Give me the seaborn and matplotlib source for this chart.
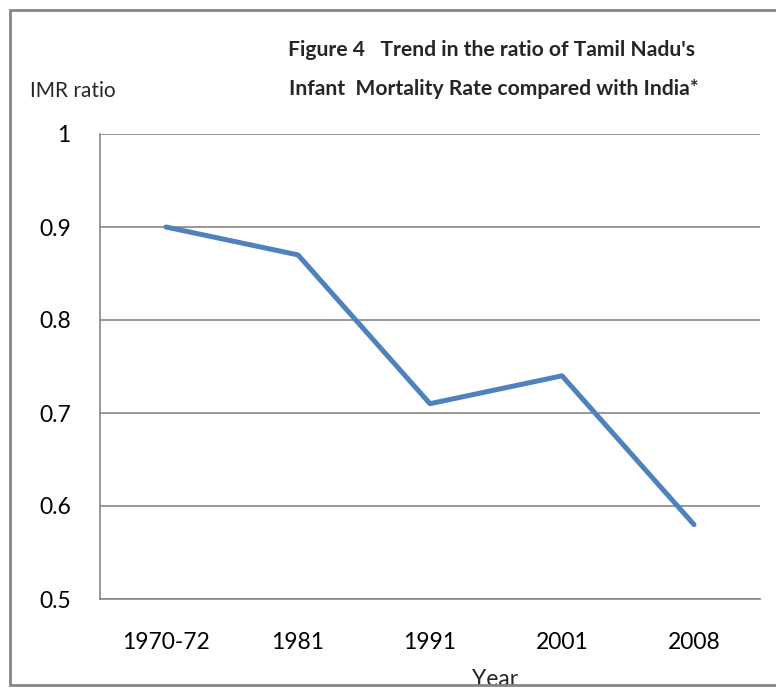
import numpy as np
import pandas as pd
import seaborn as sns
from matplotlib import pyplot as plt
from matplotlib.lines import Line2D
from matplotlib.patches import Rectangle

# chart values
years = ['1970-72', '1981', '1991', '2001', '2008']
imr_ratio = [0.90, 0.87, 0.71, 0.74, 0.58]
y_ticks = [0.5, 0.6, 0.7, 0.8, 0.9, 1.0]
y_labels = ['0.5', '0.6', '0.7', '0.8', '0.9', '1']

df = pd.DataFrame({'Year': years, 'IMR ratio': imr_ratio})
df['pos'] = np.arange(len(years))

sns.set_style('white')
plt.rcParams['font.family'] = ['Lato', 'DejaVu Sans']

W, H = 776, 688
fig = plt.figure(figsize=(W / 100, H / 100), dpi=100)
ax = fig.add_axes([100 / W, 1 - 599 / H, 660 / W, (599 - 134) / H])

sns.lineplot(data=df, x='pos', y='IMR ratio', ax=ax, color='#4F81BD',
             linewidth=3.6, solid_capstyle='round')

gray = '#868686'
ax.set_xlim(-0.5, len(years) - 0.5)
ax.set_ylim(0.5, 1.0)
ax.set_yticks(y_ticks)
ax.set_yticklabels(y_labels)
ax.set_xticks(df['pos'])
ax.set_xticklabels(years)
ax.set_xticks(np.arange(-0.5, len(years)), minor=True)
ax.tick_params(axis='x', which='major', length=0, labelsize=16.5, pad=24, colors='black')
ax.tick_params(axis='x', which='minor', length=8, width=1.2, color=gray, direction='out')
ax.tick_params(axis='y', length=8, width=1.2, color=gray, direction='out',
               labelsize=16.5, pad=13, labelcolor='black')
ax.grid(axis='y', color=gray, linewidth=1.2)
ax.grid(axis='x', visible=False)
ax.set_axisbelow(True)
for side in ['top', 'right']:
    ax.spines[side].set_visible(False)
for side in ['left', 'bottom']:
    ax.spines[side].set_color(gray)
    ax.spines[side].set_linewidth(1.2)
ax.set_xlabel('')
ax.set_ylabel('')

fig.text(492 / W, 1 - 50 / H, "Figure 4   Trend in the ratio of Tamil Nadu's",
         ha='center', va='center', fontsize=15.2, fontweight='bold')
fig.text(494 / W, 1 - 89 / H, "Infant  Mortality Rate compared with India*",
         ha='center', va='center', fontsize=15.2, fontweight='bold')
fig.text(30 / W, 1 - 91 / H, 'IMR ratio', ha='left', va='center', fontsize=15)
fig.text(495 / W, 1 - 680 / H, 'Year', ha='center', va='center', fontsize=16.5)

# hide the part of "Year" that falls below the frame, then draw the frame
fig.patches.append(Rectangle((0, 0), 1, 3 / H, transform=fig.transFigure,
                             facecolor='white', edgecolor='none', zorder=10))
fig.add_artist(Line2D([1.0, 10 / W, 10 / W, 1.0],
                      [1 - 10 / H, 1 - 10 / H, 3 / H, 3 / H],
                      transform=fig.transFigure, color=gray, linewidth=2,
                      solid_joinstyle='miter', zorder=11))

fig.savefig('out.png', dpi=100)
